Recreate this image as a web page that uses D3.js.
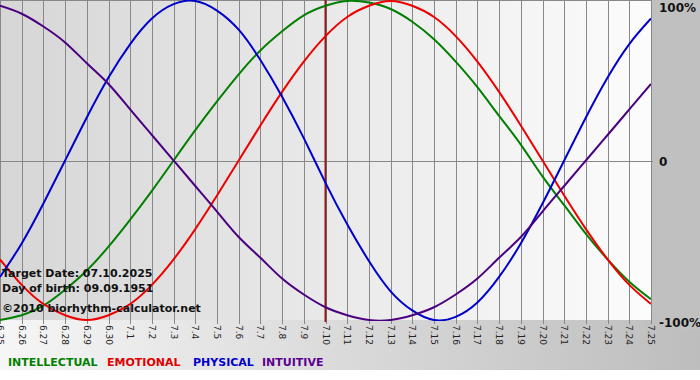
<!DOCTYPE html>
<html><head><meta charset="utf-8">
<script src="https://cdn.jsdelivr.net/npm/d3@7"></script>
<style>html,body{margin:0;padding:0;background:#fff;}svg{display:block;}</style>
</head><body>
<script>
const dayLabels = ["6.25","6.26","6.27","6.28","6.29","6.30","7.1","7.2","7.3","7.4","7.5","7.6","7.7","7.8","7.9","7.10","7.11","7.12","7.13","7.14","7.15","7.16","7.17","7.18","7.19","7.20","7.21","7.22","7.23","7.24","7.25"];
const physical = [-0.73,-0.52,-0.27,0,0.27,0.52,0.73,0.89,0.98,1.00,0.94,0.82,0.63,0.40,0.14,-0.14,-0.40,-0.63,-0.82,-0.94,-1.00,-0.98,-0.89,-0.73,-0.52,-0.27,0,0.27,0.52,0.73,0.89];
const emotional = [-0.62,-0.78,-0.90,-0.97,-1.00,-0.97,-0.90,-0.78,-0.62,-0.43,-0.22,0,0.22,0.43,0.62,0.78,0.90,0.97,1.00,0.97,0.90,0.78,0.62,0.43,0.22,0,-0.22,-0.43,-0.62,-0.78,-0.90];
const intellectual = [-1.00,-0.97,-0.91,-0.81,-0.69,-0.54,-0.37,-0.19,0,0.19,0.37,0.54,0.69,0.81,0.91,0.97,1.00,0.99,0.95,0.87,0.76,0.62,0.46,0.28,0.10,-0.10,-0.28,-0.46,-0.62,-0.76,-0.87];
const intuitive = [0.97,0.92,0.84,0.74,0.61,0.48,0.32,0.16,0,-0.16,-0.32,-0.48,-0.61,-0.74,-0.84,-0.92,-0.97,-1.00,-1.00,-0.97,-0.92,-0.84,-0.74,-0.61,-0.48,-0.32,-0.16,0,0.16,0.32,0.48];
const yTickLabels = [{v:1,t:"100%"},{v:0,t:"0"},{v:-1,t:"-100%"}];
const legendNames = ["INTELLECTUAL","EMOTIONAL","PHYSICAL","INTUITIVE"];
const targetIndex = 15;
const infoLines = ["Target Date: 07.10.2025","Day of birth: 09.09.1951","©2010 biorhythm-calculator.net"];

const W=700,H=380;
const svg=d3.select("body").append("svg").attr("width",W).attr("height",H);
const defs=svg.append("defs");
const g1=defs.append("linearGradient").attr("id","outer").attr("x1","0").attr("x2","1").attr("y1","0").attr("y2","0");
g1.append("stop").attr("offset","0").attr("stop-color","#f6f6f6");
g1.append("stop").attr("offset","1").attr("stop-color","#bdbdbd");
const g2=defs.append("linearGradient").attr("id","plot").attr("x1","0").attr("x2","1").attr("y1","0").attr("y2","0");
g2.append("stop").attr("offset","0").attr("stop-color","#d6d6d6");
g2.append("stop").attr("offset","1").attr("stop-color","#fcfcfc");

svg.append("rect").attr("x",0).attr("y",0).attr("width",W).attr("height",370).attr("fill","url(#outer)");
svg.append("rect").attr("x",651).attr("y",0).attr("width",49).attr("height",330).attr("fill","#c0c0c0");

const x=d3.scaleLinear().domain([0,dayLabels.length-1]).range([0,651]);
const y=d3.scaleLinear().domain([-1,1]).range([320,1]);

svg.append("rect").attr("x",0).attr("y",0).attr("width",651).attr("height",320).attr("fill","url(#plot)");

const gx=svg.append("g");
dayLabels.forEach((d,i)=>{
  const xx=Math.round(x(i))+0.5;
  gx.append("line").attr("x1",xx).attr("x2",xx).attr("y1",0).attr("y2",324).attr("stroke","#888").attr("stroke-width",1);
  gx.append("text").attr("transform",`translate(${xx},325) rotate(90)`).attr("dy","0.35em")
    .attr("font-family","DejaVu Sans, Verdana, sans-serif").attr("font-size",9).attr("fill","#222").text(d);
});
svg.append("line").attr("x1",0).attr("x2",651).attr("y1",0.5).attr("y2",0.5).attr("stroke","#888");
svg.append("line").attr("x1",0).attr("x2",653).attr("y1",Math.round(y(0))+0.5).attr("y2",Math.round(y(0))+0.5).attr("stroke","#888");

yTickLabels.forEach(d=>{
  svg.append("text").attr("x",659).attr("y",y(d.v)+ (d.v===1?11:(d.v===0?5:7)))
    .attr("font-family","DejaVu Sans, Verdana, sans-serif").attr("font-weight","bold").attr("font-size",12).attr("fill","#111").text(d.t);
});

svg.append("line").attr("x1",x(targetIndex)).attr("x2",x(targetIndex)).attr("y1",0).attr("y2",322).attr("stroke","#8b1c1c").attr("stroke-width",2);

const line=d3.line().x((d,i)=>x(i)).y(d=>y(d)).curve(d3.curveNatural);
const series=[{v:intellectual,c:"#007f00"},{v:emotional,c:"#ee0000"},{v:physical,c:"#0000cc"},{v:intuitive,c:"#4b0080"}];
const clip=defs.append("clipPath").attr("id","clip");
clip.append("rect").attr("x",0).attr("y",0).attr("width",651).attr("height",321);
const lg=svg.append("g").attr("clip-path","url(#clip)");
series.forEach(s=>{
  lg.append("path").attr("d",line(s.v)).attr("fill","none").attr("stroke",s.c).attr("stroke-width",2);
});

const infoY=[277,292,312];
infoLines.forEach((t,i)=>{
  svg.append("text").attr("x",2).attr("y",infoY[i]).attr("font-family","DejaVu Sans, Verdana, sans-serif")
    .attr("font-weight","bold").attr("font-size",11).attr("fill","#111").text(t);
});

const legCol=["#008000","#e00000","#0000cc","#5c0090"];
const legX=[8,107,193,262];
legendNames.forEach((n,i)=>{
  svg.append("text").attr("x",legX[i]).attr("y",366).attr("font-family","DejaVu Sans, Verdana, sans-serif")
    .attr("font-weight","bold").attr("font-size",11).attr("fill",legCol[i]).text(n);
});
</script>
</body></html>
